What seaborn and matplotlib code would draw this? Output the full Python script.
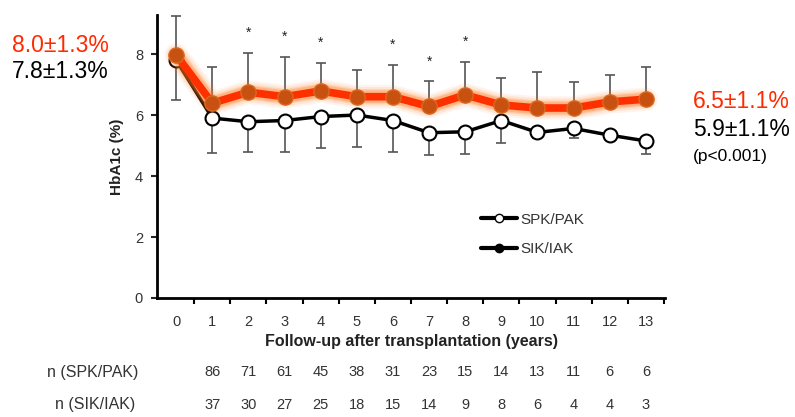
import numpy as np
import pandas as pd
import matplotlib
matplotlib.use('Agg')
import matplotlib.pyplot as plt
import matplotlib.transforms as mtransforms
from matplotlib.lines import Line2D
import seaborn as sns

sns.set_style('white')
plt.rcParams['font.family'] = ['Liberation Sans', 'DejaVu Sans']

# data
years = list(range(14))
sik_mean = [7.97, 6.39, 6.75, 6.60, 6.79, 6.60, 6.60, 6.28, 6.66, 6.33, 6.23, 6.23, 6.43, 6.52]
sik_upper = [9.25, 7.58, 8.05, 7.90, 7.72, 7.48, 7.64, 7.10, 7.75, 7.20, 7.40, 7.08, 7.30, 7.58]
spk_mean = [7.80, 5.90, 5.78, 5.82, 5.95, 6.00, 5.82, 5.42, 5.45, 5.82, 5.43, 5.56, 5.34, 5.15]
spk_lower = [6.50, 4.77, 4.80, 4.80, 4.93, 4.95, 4.78, 4.69, 4.72, 5.08, 5.25, 5.25, 5.20, 4.72]
star_years = [2, 3, 4, 6, 7, 8]
n_spk = [86, 71, 61, 45, 38, 31, 23, 15, 14, 13, 11, 6, 6]
n_sik = [37, 30, 27, 25, 18, 15, 14, 9, 8, 6, 4, 4, 3]

df = pd.DataFrame({'year': years, 'sik': sik_mean, 'spk': spk_mean})

fig = plt.figure(figsize=(7.95, 4.17), dpi=100)
ax = fig.add_axes([0.1975, 0.2854, 0.639, 0.6786])

# error bars (one-sided)
ebc = '#555555'
sik_err = np.array(sik_upper) - np.array(sik_mean)
spk_err = np.array(spk_mean) - np.array(spk_lower)
ax.errorbar(years, sik_mean, yerr=[np.zeros(14), sik_err], fmt='none',
            ecolor=ebc, elinewidth=1.2, capsize=3.5, capthick=1.2, zorder=1)
ax.errorbar(years, spk_mean, yerr=[spk_err, np.zeros(14)], fmt='none',
            ecolor=ebc, elinewidth=1.2, capsize=3.5, capthick=1.2, zorder=1)

# SPK/PAK line (open circles)
sns.lineplot(data=df, x='year', y='spk', ax=ax, color='black', linewidth=2.5,
             marker='o', markersize=10, markerfacecolor='white',
             markeredgecolor='black', markeredgewidth=1.5, zorder=3)

# SIK/IAK line with orange glow
for lw, a in [(17, 0.08), (14, 0.12), (11, 0.2), (9, 0.3)]:
    ax.plot(years, sik_mean, color='#ff7a20', linewidth=lw, alpha=a,
            solid_capstyle='round', zorder=4)
sns.lineplot(data=df, x='year', y='sik', ax=ax, color='#ff3000', linewidth=5.5,
             marker='o', markersize=11, markerfacecolor='#c85010',
             markeredgecolor='#d86a20', markeredgewidth=1.0, zorder=5)

# significance stars
for yr in star_years:
    ax.text(yr, sik_upper[yr] + 0.65, '*', ha='center', va='center',
            fontsize=10, color='#222222')

ax.set_xlim(-0.53, 13.53)
ax.set_ylim(0, 9.28)
ax.set_xticks(years)
ax.set_xticks(np.arange(0.5, 13.6, 1), minor=True)
ax.set_yticks([0, 2, 4, 6, 8])
ax.tick_params(axis='x', which='major', length=0, pad=12, labelsize=10.5, labelcolor='#333333')
ax.tick_params(axis='x', which='minor', length=4, width=1.5, direction='out', color='black', bottom=True)
ax.tick_params(axis='y', length=4, width=1.5, direction='out', pad=6, labelsize=10.5,
               labelcolor='#333333', left=True)
for s in ['top', 'right']:
    ax.spines[s].set_visible(False)
for s in ['left', 'bottom']:
    ax.spines[s].set_linewidth(2)
    ax.spines[s].set_color('black')

ax.set_xlabel('Follow-up after transplantation (years)', fontsize=11.5,
              fontweight='bold', color='#222222', labelpad=4)
ax.set_ylabel('HbA1c (%)', fontsize=11, fontweight='bold', color='#222222', labelpad=8)

# legend
handles = [Line2D([], [], color='black', linewidth=3, marker='o', markersize=6,
                  markerfacecolor='white', markeredgecolor='black'),
           Line2D([], [], color='black', linewidth=3, marker='o', markersize=6,
                  markerfacecolor='black', markeredgecolor='black')]
ax.legend(handles, ['SPK/PAK', 'SIK/IAK'], loc='upper left',
          bbox_to_anchor=(0.61, 0.35), frameon=False, fontsize=11,
          handlelength=2.4, handletextpad=0.2, labelspacing=1.0, labelcolor='#333333')

# n at risk rows
trans = mtransforms.blended_transform_factory(ax.transData, fig.transFigure)
for i, (a, b) in enumerate(zip(n_spk, n_sik)):
    ax.text(i + 1, 1 - 372 / 417, str(a), transform=trans, ha='center', va='center',
            fontsize=10.5, color='#333333')
    ax.text(i + 1, 1 - 405 / 417, str(b), transform=trans, ha='center', va='center',
            fontsize=10.5, color='#333333')
fig.text(93 / 795, 1 - 372 / 417, 'n (SPK/PAK)', ha='center', va='center', fontsize=11.5, color='#333333')
fig.text(95 / 795, 1 - 405 / 417, 'n (SIK/IAK)', ha='center', va='center', fontsize=11.5, color='#333333')

# summary values
fig.text(12 / 795, 1 - 45 / 417, '8.0±1.3%', ha='left', va='center', fontsize=16.5, color='#ff2a00')
fig.text(12 / 795, 1 - 72 / 417, '7.8±1.3%', ha='left', va='center', fontsize=16.5, color='black')
fig.text(693 / 795, 1 - 102 / 417, '6.5±1.1%', ha='left', va='center', fontsize=16.5, color='#ff2a00')
fig.text(693 / 795, 1 - 130 / 417, '5.9±1.1%', ha='left', va='center', fontsize=16.5, color='black')
fig.text(693 / 795, 1 - 156 / 417, '(p<0.001)', ha='left', va='center', fontsize=12.5, color='black')

fig.savefig('out.png', dpi=100)
